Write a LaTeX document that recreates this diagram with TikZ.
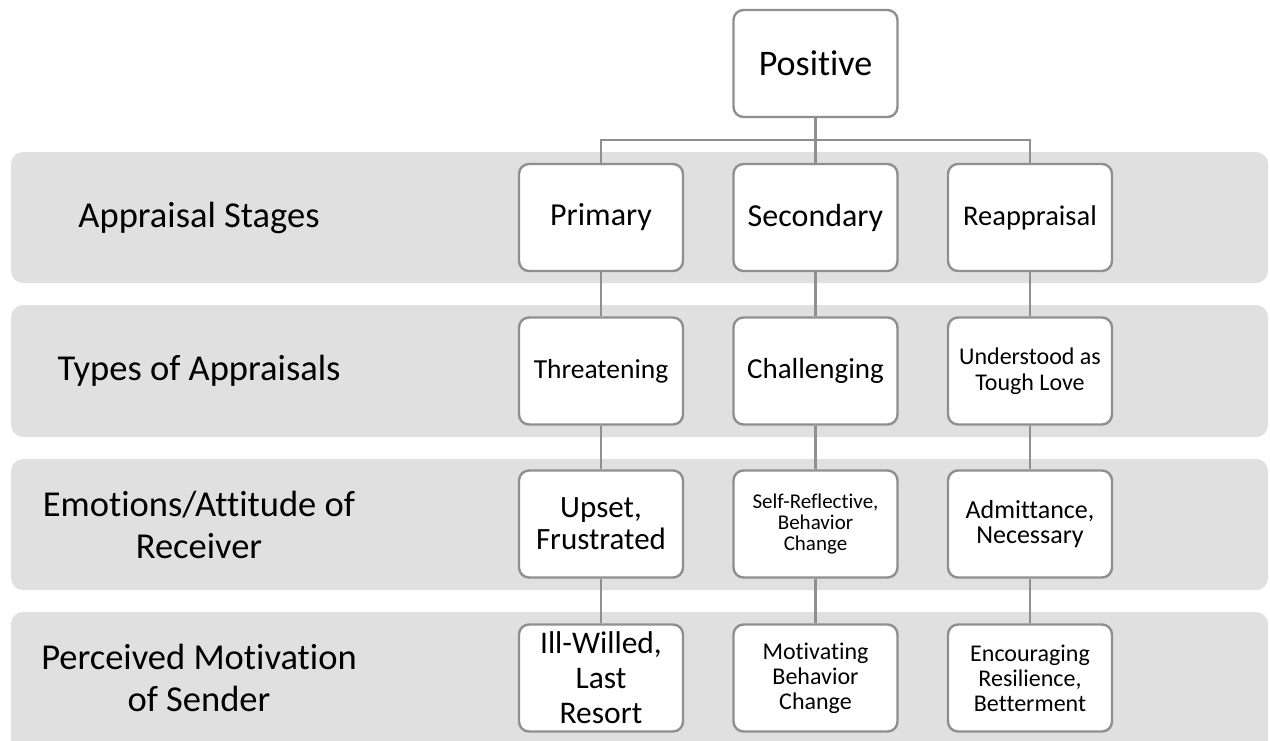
\documentclass[tikz,border=0pt]{standalone}
\usepackage{fontspec}
\setmainfont{Carlito}[Ligatures=NoCommon]
\definecolor{bandgray}{HTML}{E0E0E0}
\definecolor{linegray}{HTML}{8F8F8F}
\newcommand{\fs}[2]{\fontsize{#1pt}{#2pt}\selectfont}
\tikzset{
  band/.style={fill=bandgray, rounded corners=12pt},
  cbox/.style={draw=linegray, line width=2.4pt, rounded corners=10pt, fill=white,
    minimum width=164pt, minimum height=107pt, inner sep=0pt, align=center},
  rowlabel/.style={inner sep=0pt, align=center, font=\fs{36.5}{42}},
  conn/.style={draw=linegray, line width=2.4pt}
}
\begin{document}
\begin{tikzpicture}[x=1pt, y=-1pt]
\useasboundingbox (0,0) rectangle (1270,740);
\clip (0,0) rectangle (1270,740);
% bands
\fill[band] (11,152) rectangle (1268,283);
\fill[band] (11,305) rectangle (1268,437);
\fill[band] (11,459) rectangle (1268,590);
\fill[band] (11,612) rectangle (1268,760);
% row labels
\node[rowlabel] (l1) at (199,217.5) {Appraisal Stages};
\node[rowlabel] (l2) at (199,371) {Types of Appraisals};
\node[rowlabel] (l3) at (199,524.5) {Emotions/Attitude of\\Receiver};
\node[rowlabel] (l4) at (199,678) {Perceived Motivation\\of Sender};
% boxes
\node[cbox, font=\fs{36}{42}] (pos) at (815.5,63.5) {Positive};
\node[cbox, font=\fs{32}{36}] (a1) at (601,217.5) {Primary};
\node[cbox, font=\fs{32}{36}] (a2) at (815.5,217.5) {Secondary};
\node[cbox, font=\fs{28.5}{32}] (a3) at (1030,217.5) {Reappraisal};
\node[cbox, font=\fs{27.5}{30}] (b1) at (601,371) {Threatening};
\node[cbox, font=\fs{29}{32}] (b2) at (815.5,371) {Challenging};
\node[cbox, font=\fs{24}{26}] (b3) at (1030,371) {Understood as\\Tough Love};
\node[cbox, font=\fs{31}{32}] (c1) at (601,524) {Upset,\\Frustrated};
\node[cbox, font=\fs{21}{21}] (c2) at (815.5,524) {Self-Reflective,\\Behavior\\Change};
\node[cbox, font=\fs{26}{25}] (c3) at (1030,524) {Admittance,\\Necessary};
\node[cbox, font=\fs{31.5}{35}] (d1) at (601,678) {Ill-Willed,\\Last\\Resort};
\node[cbox, font=\fs{24}{25}] (d2) at (815.5,678) {Motivating\\Behavior\\Change};
\node[cbox, font=\fs{24}{25}] (d3) at (1030,678) {Encouraging\\Resilience,\\Betterment};
% connectors
\coordinate (bus) at (815.5,140);
\draw[conn] (pos.south) -- (bus);
\draw[conn] (bus) -| (a1.north);
\draw[conn] (bus) -- (a2.north);
\draw[conn] (bus) -| (a3.north);
\draw[conn] (a1.south) -- (b1.north);
\draw[conn] (a2.south) -- (b2.north);
\draw[conn] (a3.south) -- (b3.north);
\draw[conn] (b1.south) -- (c1.north);
\draw[conn] (b2.south) -- (c2.north);
\draw[conn] (b3.south) -- (c3.north);
\draw[conn] (c1.south) -- (d1.north);
\draw[conn] (c2.south) -- (d2.north);
\draw[conn] (c3.south) -- (d3.north);
\end{tikzpicture}
\end{document}
